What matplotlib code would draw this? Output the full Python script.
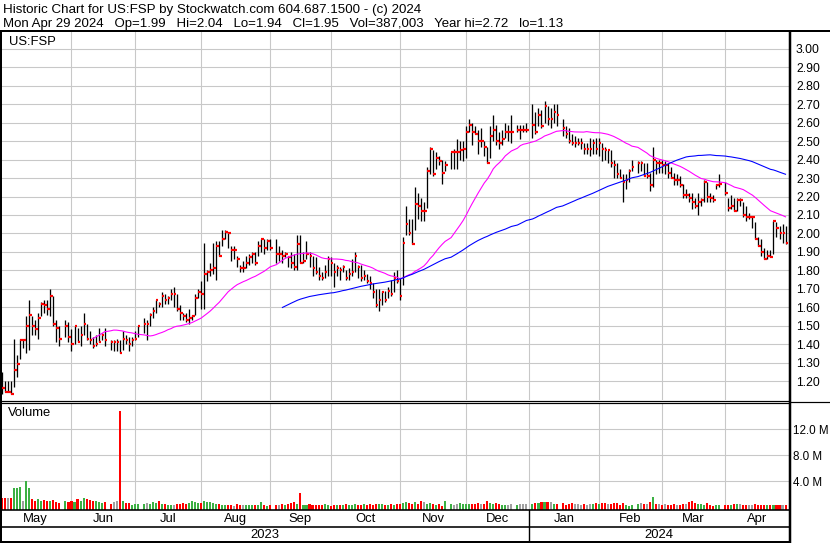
import numpy as np
import pandas as pd
import matplotlib
matplotlib.use("Agg")
import matplotlib.pyplot as plt
from matplotlib.transforms import blended_transform_factory

plt.rcParams['font.family'] = ['Liberation Sans', 'DejaVu Sans']

# ---------------- data ----------------
title_line1 = "Historic Chart for US:FSP by Stockwatch.com 604.687.1500 - (c) 2024"
title_line2 = "Mon Apr 29 2024   Op=1.99   Hi=2.04   Lo=1.94   Cl=1.95   Vol=387,003   Year hi=2.72   lo=1.13"
symbol = "US:FSP"

first_day = "2023-05-01"
last_day = "2024-04-29"
holidays = ["2023-05-29", "2023-06-19", "2023-07-04", "2023-09-04", "2023-11-23",
            "2023-12-25", "2024-01-01", "2024-01-15", "2024-02-19", "2024-03-29"]
prev_close = 1.20

high = [
    # May
    1.25, 1.20, 1.20, 1.20, 1.43, 1.34, 1.43, 1.42, 1.55, 1.64, 1.55, 1.53, 1.57, 1.63, 1.64, 1.64, 1.70, 1.66, 1.53, 1.50, 1.53, 1.52,
    # Jun
    1.48, 1.50, 1.49, 1.50, 1.57, 1.51, 1.47, 1.44, 1.45, 1.49, 1.46, 1.49, 1.42, 1.42, 1.43, 1.42, 1.47, 1.45, 1.44, 1.44, 1.47,
    # Jul
    1.50, 1.54, 1.53, 1.57, 1.60, 1.64, 1.63, 1.68, 1.67, 1.66, 1.70, 1.71, 1.67, 1.61, 1.57, 1.57, 1.59, 1.56, 1.67, 1.70,
    # Aug
    1.74, 1.95, 1.80, 1.84, 1.95, 1.96, 1.96, 2.02, 2.02, 2.01, 1.93, 1.93, 1.88, 1.83, 1.85, 1.88, 1.89, 1.90, 1.90, 1.96, 1.97, 1.97, 1.97,
    # Sep
    1.97, 1.97, 1.93, 1.91, 1.90, 1.88, 1.90, 1.89, 1.99, 1.99, 1.90, 1.96, 1.90, 1.88, 1.87, 1.82, 1.79, 1.83, 1.88, 1.87,
    # Oct
    1.84, 1.83, 1.82, 1.83, 1.80, 1.81, 1.86, 1.90, 1.83, 1.83, 1.80, 1.78, 1.77, 1.73, 1.70, 1.70, 1.69, 1.69, 1.71, 1.75, 1.79, 1.80,
    # Nov
    1.76, 1.98, 2.15, 2.08, 2.08, 2.25, 2.22, 2.19, 2.17, 2.36, 2.47, 2.45, 2.44, 2.42, 2.40, 2.39, 2.44, 2.46, 2.51, 2.50, 2.50,
    # Dec
    2.58, 2.62, 2.60, 2.58, 2.56, 2.57, 2.50, 2.47, 2.58, 2.64, 2.59, 2.55, 2.56, 2.60, 2.59, 2.64, 2.59, 2.59, 2.59, 2.60,
    # Jan
    2.70, 2.66, 2.68, 2.67, 2.72, 2.69, 2.68, 2.70, 2.70, 2.62, 2.58, 2.57, 2.54, 2.53, 2.52, 2.52, 2.49, 2.49, 2.52, 2.51, 2.52,
    # Feb
    2.52, 2.49, 2.47, 2.45, 2.45, 2.40, 2.38, 2.35, 2.32, 2.32, 2.35, 2.40, 2.39, 2.39, 2.38, 2.38, 2.33, 2.47, 2.40, 2.40,
    # Mar
    2.40, 2.39, 2.38, 2.36, 2.33, 2.32, 2.31, 2.27, 2.24, 2.22, 2.22, 2.19, 2.22, 2.19, 2.29, 2.28, 2.22, 2.21, 2.27, 2.32,
    # Apr
    2.28, 2.19, 2.21, 2.19, 2.19, 2.19, 2.17, 2.15, 2.11, 2.09, 2.06, 1.98, 1.97, 1.92, 1.91, 1.91, 2.07, 2.06, 2.04, 2.05, 2.04,
]
low = [
    1.13, 1.14, 1.14, 1.13, 1.17, 1.22, 1.32, 1.38, 1.35, 1.37, 1.45, 1.45, 1.43, 1.55, 1.57, 1.56, 1.55, 1.50, 1.41, 1.39, 1.44, 1.41,
    1.36, 1.40, 1.41, 1.39, 1.45, 1.42, 1.40, 1.38, 1.39, 1.41, 1.42, 1.39, 1.37, 1.36, 1.36, 1.35, 1.37, 1.40, 1.36, 1.39, 1.42,
    1.44, 1.46, 1.42, 1.50, 1.54, 1.57, 1.60, 1.60, 1.62, 1.62, 1.64, 1.60, 1.58, 1.53, 1.53, 1.52, 1.51, 1.53, 1.56, 1.65,
    1.59, 1.59, 1.74, 1.77, 1.78, 1.75, 1.88, 1.93, 1.97, 1.92, 1.85, 1.86, 1.82, 1.79, 1.79, 1.81, 1.83, 1.84, 1.83, 1.88, 1.90, 1.89, 1.91,
    1.91, 1.84, 1.85, 1.84, 1.87, 1.82, 1.81, 1.80, 1.80, 1.84, 1.84, 1.86, 1.82, 1.77, 1.78, 1.75, 1.75, 1.76, 1.77, 1.77,
    1.71, 1.77, 1.75, 1.79, 1.75, 1.75, 1.77, 1.79, 1.76, 1.74, 1.75, 1.73, 1.70, 1.65, 1.60, 1.58, 1.61, 1.63, 1.65, 1.66, 1.68, 1.73,
    1.64, 1.72, 1.99, 1.99, 1.94, 2.02, 2.08, 2.07, 2.07, 2.14, 2.32, 2.31, 2.35, 2.37, 2.27, 2.34, 2.35, 2.35, 2.35, 2.40, 2.39,
    2.41, 2.55, 2.48, 2.54, 2.43, 2.47, 2.42, 2.38, 2.41, 2.50, 2.48, 2.46, 2.48, 2.52, 2.50, 2.49, 2.55, 2.51, 2.55, 2.55,
    2.52, 2.54, 2.58, 2.57, 2.60, 2.59, 2.57, 2.60, 2.58, 2.53, 2.52, 2.49, 2.48, 2.47, 2.48, 2.46, 2.43, 2.43, 2.42, 2.43, 2.43,
    2.42, 2.39, 2.40, 2.38, 2.36, 2.30, 2.30, 2.30, 2.17, 2.24, 2.28, 2.34, 2.33, 2.34, 2.31, 2.30, 2.23, 2.25, 2.32, 2.33,
    2.33, 2.32, 2.30, 2.30, 2.26, 2.26, 2.25, 2.19, 2.19, 2.17, 2.13, 2.14, 2.10, 2.15, 2.17, 2.17, 2.17, 2.17, 2.24, 2.25,
    2.21, 2.12, 2.13, 2.12, 2.12, 2.15, 2.09, 2.07, 2.08, 2.03, 1.97, 1.93, 1.88, 1.86, 1.86, 1.87, 1.89, 1.98, 1.97, 1.95, 1.94,
]
close = [
    1.16, 1.14, 1.14, 1.13, 1.26, 1.29, 1.42, 1.42, 1.50, 1.56, 1.50, 1.48, 1.54, 1.62, 1.61, 1.59, 1.66, 1.51, 1.49, 1.43, 1.50, 1.44,
    1.40, 1.50, 1.41, 1.45, 1.51, 1.43, 1.42, 1.39, 1.40, 1.41, 1.45, 1.42, 1.41, 1.41, 1.41, 1.35, 1.43, 1.42, 1.40, 1.42, 1.43,
    1.50, 1.51, 1.51, 1.56, 1.58, 1.64, 1.62, 1.66, 1.64, 1.65, 1.67, 1.67, 1.59, 1.57, 1.55, 1.53, 1.54, 1.55, 1.65, 1.68,
    1.67, 1.78, 1.79, 1.80, 1.81, 1.93, 1.88, 1.97, 2.01, 2.00, 1.91, 1.91, 1.86, 1.81, 1.81, 1.84, 1.87, 1.89, 1.84, 1.93, 1.97, 1.92, 1.96,
    1.92, 1.89, 1.89, 1.88, 1.89, 1.87, 1.84, 1.82, 1.94, 1.84, 1.85, 1.89, 1.88, 1.81, 1.79, 1.77, 1.76, 1.79, 1.86, 1.84,
    1.79, 1.81, 1.80, 1.82, 1.76, 1.78, 1.79, 1.88, 1.82, 1.76, 1.77, 1.74, 1.73, 1.68, 1.61, 1.64, 1.68, 1.64, 1.69, 1.67, 1.76, 1.74,
    1.66, 1.95, 2.05, 2.00, 1.94, 2.16, 2.15, 2.12, 2.12, 2.34, 2.46, 2.32, 2.41, 2.39, 2.33, 2.37, 2.44, 2.44, 2.44, 2.45, 2.46,
    2.55, 2.59, 2.55, 2.54, 2.50, 2.50, 2.47, 2.38, 2.53, 2.56, 2.50, 2.49, 2.51, 2.55, 2.55, 2.55, 2.56, 2.56, 2.56, 2.56,
    2.59, 2.55, 2.64, 2.58, 2.69, 2.62, 2.62, 2.66, 2.64, 2.57, 2.54, 2.50, 2.49, 2.49, 2.49, 2.49, 2.46, 2.46, 2.46, 2.49, 2.46,
    2.49, 2.46, 2.45, 2.45, 2.38, 2.37, 2.32, 2.30, 2.28, 2.29, 2.34, 2.36, 2.38, 2.38, 2.31, 2.31, 2.26, 2.40, 2.38, 2.38,
    2.37, 2.37, 2.33, 2.30, 2.29, 2.29, 2.26, 2.21, 2.21, 2.19, 2.17, 2.15, 2.17, 2.18, 2.28, 2.20, 2.19, 2.18, 2.26, 2.27,
    2.22, 2.14, 2.15, 2.12, 2.18, 2.18, 2.10, 2.09, 2.09, 2.09, 1.97, 1.93, 1.90, 1.86, 1.88, 1.87, 2.07, 2.03, 2.00, 2.00, 1.95,
]
volume_m = [
    1.4, 1.4, 1.4, 1.4, 3.0, 3.0, 3.1, 0.9, 4.0, 3.0, 1.2, 0.9, 1.3, 0.9, 1.1, 1.0, 1.0, 1.1, 0.7, 0.6, 0.9, 0.8,
    0.9, 0.8, 1.2, 1.0, 1.4, 1.2, 1.1, 1.0, 0.9, 0.7, 0.6, 0.8, 0.4, 0.7, 0.9, 14.8, 0.9, 0.6, 0.6, 0.3, 0.4,
    0.5, 0.5, 0.6, 0.4, 0.7, 0.6, 0.9, 0.5, 0.4, 0.3, 0.3, 0.3, 0.4, 0.5, 0.6, 0.5, 0.6, 0.9, 0.7, 0.6,
    0.6, 0.9, 0.7, 0.7, 0.6, 0.4, 0.4, 0.3, 0.3, 0.3, 0.3, 0.2, 0.4, 0.3, 0.3, 0.3, 0.3, 0.3, 0.3, 0.3, 0.7, 0.3, 0.2,
    0.3, 0.3, 0.3, 0.4, 0.3, 0.5, 0.6, 0.7, 0.4, 2.2, 0.3, 0.3, 0.4, 0.3, 0.3, 0.3, 0.3, 0.4, 0.3, 0.2,
    0.3, 0.3, 0.3, 0.3, 0.4, 0.3, 0.3, 0.5, 0.3, 0.3, 0.4, 0.3, 0.4, 0.3, 0.4, 0.5, 0.4, 0.3, 0.3, 0.4, 0.3, 0.5,
    0.4, 0.6, 0.8, 0.6, 0.5, 0.7, 0.5, 0.9, 0.7, 0.5, 0.6, 0.4, 0.3, 0.4, 0.2, 0.9, 0.4, 0.3, 0.5, 0.6, 0.5,
    0.5, 0.5, 0.4, 0.5, 0.6, 0.4, 0.5, 0.9, 0.6, 0.4, 0.6, 0.5, 0.3, 0.3, 0.3, 0.4, 0.3, 0.4, 0.4, 0.4,
    0.5, 0.6, 0.6, 0.7, 0.7, 0.7, 0.7, 0.5, 0.5, 0.6, 0.3, 0.4, 0.6, 0.4, 0.5, 0.3, 0.5, 0.3, 0.4, 0.5, 0.6,
    0.5, 0.6, 0.6, 0.4, 0.5, 0.6, 0.6, 0.3, 0.6, 0.3, 0.2, 0.3, 0.5, 0.6, 0.4, 0.5, 0.7, 1.6, 0.5, 0.4,
    0.3, 0.4, 0.3, 0.3, 0.4, 0.3, 0.3, 0.5, 0.4, 0.8, 1.0, 0.6, 0.4, 0.4, 0.3, 0.6, 0.3, 0.2, 0.3, 0.3,
    0.3, 0.3, 0.3, 0.4, 0.4, 0.4, 0.3, 0.3, 0.3, 0.3, 0.4, 0.3, 0.3, 0.3, 0.3, 0.3, 0.3, 0.3, 0.3, 0.3, 0.387,
]
month_names = ["May", "Jun", "Jul", "Aug", "Sep", "Oct", "Nov", "Dec", "Jan", "Feb", "Mar", "Apr"]
year_names = ["2023", "2024"]
price_ticks = [1.2, 1.3, 1.4, 1.5, 1.6, 1.7, 1.8, 1.9, 2.0, 2.1, 2.2, 2.3, 2.4, 2.5, 2.6, 2.7, 2.8, 2.9, 3.0]
volume_ticks = [4, 8, 12]
ma_short, ma_long = 30, 90

# ---------------- derived positions ----------------
weekdays = pd.bdate_range(first_day, last_day)
trade_days = weekdays[~weekdays.isin(pd.to_datetime(holidays))]
x = weekdays.get_indexer(trade_days).astype(float)
cl = pd.Series(close)
ma1 = cl.rolling(ma_short).mean()
ma2 = cl.rolling(ma_long).mean()
prev = np.concatenate([[prev_close], close[:-1]])
chg = np.array(close) - prev
vcolors = np.where(chg > 1e-9, "#3cb043", np.where(chg < -1e-9, "#ff0000", "#a0a0a0"))

month_starts = pd.date_range("2023-06-01", "2024-04-01", freq="MS")
grid_x = weekdays.searchsorted(month_starts, side="right") - 1
year_x = weekdays.searchsorted(pd.Timestamp("2024-01-01"), side="right") - 1

W, H = 830, 543
XL = (-0.73, 261.15)
PLO, PHI = 1.097, 3.092
VLO, VHI = -0.38, 16.03

fig = plt.figure(figsize=(W / 100, H / 100), dpi=100)
px = 0.72  # one pixel in points
FS = 9.4
TFS = 8.7

def frac(l, t, r, b):
    return [l / W, 1 - b / H, (r - l) / W, (b - t) / H]

grid_c = "#c8c8c8"

# ---- price panel ----
ax = fig.add_axes(frac(0, 32, 789, 400))
ax.set_xlim(*XL)
ax.set_ylim(PLO, PHI)
for s in ax.spines.values():
    s.set_visible(False)
ax.set_xticks(grid_x)
ax.set_yticks(price_ticks)
ax.set_yticklabels([f"{v:.2f}" for v in price_ticks])
ax.yaxis.tick_right()
ax.tick_params(axis="y", length=0, pad=5, labelsize=TFS)
ax.tick_params(axis="x", length=0, labelbottom=False)
ax.grid(True, color=grid_c, lw=1.1 * px)
ax.set_axisbelow(True)
ax.vlines(x, low, high, color="black", lw=1.3 * px, zorder=3)
ax.hlines(close, x, x + 0.85, color="#ff0000", lw=2.2 * px, zorder=4)
ax.plot(x, ma1, color="#ff00ff", lw=1.1 * px, zorder=5)
ax.plot(x, ma2, color="#0000ff", lw=1.1 * px, zorder=5)

# ---- volume panel ----
vax = fig.add_axes(frac(0, 403, 789, 509.5))
vax.set_xlim(*XL)
vax.set_ylim(VLO, VHI)
for s in vax.spines.values():
    s.set_visible(False)
vax.set_xticks(grid_x)
vax.set_yticks(volume_ticks)
vax.set_yticklabels([f"{v:.1f} M" for v in volume_ticks])
vax.yaxis.tick_right()
vax.tick_params(axis="y", length=0, pad=3, labelsize=8.4)
vax.tick_params(axis="x", length=0, labelbottom=False)
vax.grid(True, color=grid_c, lw=1.1 * px)
vax.set_axisbelow(True)
vax.bar(x, np.array(volume_m) - VLO, bottom=VLO, width=0.68, color=vcolors, zorder=3)

# ---- frame, header and date rows ----
ov = fig.add_axes([0, 0, 1, 1], zorder=10)
ov.set_xlim(0, W)
ov.set_ylim(H, 0)
ov.axis("off")
ov.patch.set_alpha(0)
bt = blended_transform_factory(ax.transData, ov.transData)

def hl(y, x0, x1, lw):
    ov.plot([x0, x1], [y, y], color="black", lw=lw * px, solid_capstyle="butt")

def vl(xp, y0, y1, lw):
    ov.plot([xp, xp], [y0, y1], color="black", lw=lw * px, solid_capstyle="butt")

hl(31, 0, W, 2)
vl(1, 31, H, 2)
vl(789.5, 31, H, 2.5)
hl(400.5, 0, 789, 1.2)
hl(402.8, 0, 789, 1.2)
hl(401.5, 789, W, 1.2)
hl(510, 0, 789, 1.6)
hl(527, 0, 789, 1.6)
hl(541.8, 0, 789, 2)
ov.plot([year_x, year_x], [510, 542], color="black", lw=1.4 * px, transform=bt)

ov.text(3, 10, title_line1, fontsize=9.6, va="center", ha="left")
ov.text(3, 23.5, title_line2, fontsize=9.5, va="center", ha="left")
ov.text(9, 42, symbol, fontsize=FS, va="center", ha="left")
ov.text(8, 413, "Volume", fontsize=FS, va="center", ha="left")

bounds = np.concatenate([[XL[0]], grid_x, [XL[1]]])
for i, name in enumerate(month_names):
    ov.text((bounds[i] + bounds[i + 1]) / 2, 519, name, transform=bt,
            fontsize=FS, ha="center", va="center")
ybounds = [XL[0], year_x, XL[1]]
for i, name in enumerate(year_names):
    ov.text((ybounds[i] + ybounds[i + 1]) / 2, 535, name, transform=bt,
            fontsize=FS, ha="center", va="center")

fig.savefig("out.png", dpi=100)
